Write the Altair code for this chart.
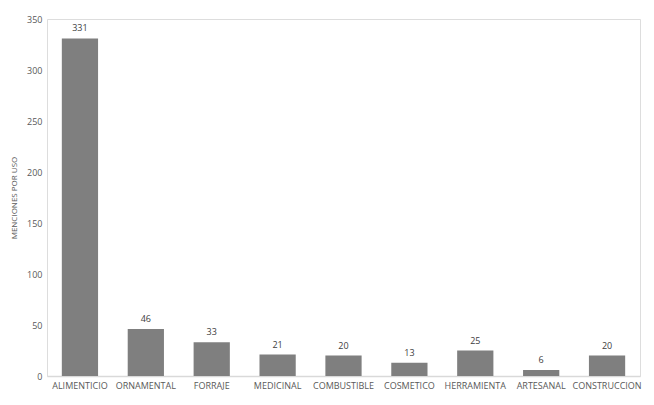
import altair as alt
import pandas as pd

categories = ["ALIMENTICIO", "ORNAMENTAL", "FORRAJE", "MEDICINAL", "COMBUSTIBLE",
              "COSMETICO", "HERRAMIENTA", "ARTESANAL", "CONSTRUCCION"]
values = [331, 46, 33, 21, 20, 13, 25, 6, 20]
y_ticks = [0, 50, 100, 150, 200, 250, 300, 350]

df = pd.DataFrame({"uso": categories, "menciones": values})

FONT = "Open Sans"
TXT = "#595959"

base = alt.Chart(df).encode(
    x=alt.X("uso:N", sort=categories, title=None,
            scale=alt.Scale(paddingInner=0.45, paddingOuter=0.225),
            axis=alt.Axis(labelAngle=0, labelFont=FONT, labelFontSize=9, labelColor=TXT,
                          labelPadding=5, ticks=False, domainColor="#d9d9d9", domainWidth=1.5)),
    y=alt.Y("menciones:Q", title="MENCIONES POR USO",
            scale=alt.Scale(domain=[0, 350], nice=False),
            axis=alt.Axis(values=y_ticks, grid=False, domain=False, ticks=False,
                          labelFont=FONT, labelFontSize=9, labelColor=TXT, labelPadding=5,
                          titleFont=FONT, titleFontSize=8, titleColor=TXT,
                          titleFontWeight="normal", titlePadding=8)),
)

bars = base.mark_bar(color="#7f7f7f")
labels = base.mark_text(dy=-5, baseline="bottom", font=FONT, fontSize=9, color="#404040").encode(
    text="menciones:Q")

chart = (bars + labels).properties(
    width=593, height=357,
    autosize=alt.AutoSizeParams(type="none"),
    padding={"left": 39, "top": 11, "right": 6, "bottom": 20},
).configure_view(stroke=None).configure(background="white")

chart.save("out.html", embed_options={"renderer": "svg", "actions": False})
